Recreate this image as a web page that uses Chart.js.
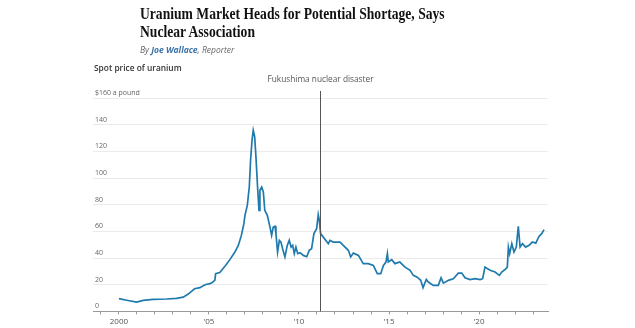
<!DOCTYPE html>
<html>
<head>
<meta charset="utf-8">
<script src="https://cdn.jsdelivr.net/npm/chart.js@4"></script>
<style>
    body { margin: 0; background: #fff; width: 635px; height: 328px; overflow: hidden; position: relative; }
    #chartBox { position: absolute; left: 0; top: 0; width: 635px; height: 328px; }
    .headline {
        position: absolute; left: 140px; top: 5px; margin: 0;
        font-family: 'Liberation Serif', 'DejaVu Serif', serif; font-weight: bold;
        font-size: 16px; line-height: 18px; color: #111;
        transform: scaleX(0.85); transform-origin: left top; white-space: nowrap;
    }
    .byline {
        position: absolute; left: 140px; top: 44px;
        font-family: 'Open Sans', sans-serif; font-style: italic;
        font-size: 8.5px; color: #666;
    }
    .byline b { color: #3b73a8; }
    .chartTitle {
        position: absolute; left: 94px; top: 61px;
        font-family: 'Open Sans', sans-serif; font-weight: 600;
        font-size: 9.5px; color: #333;
        transform: scaleX(0.88); transform-origin: left top; white-space: nowrap;
    }
</style>
</head>
<body>
<div id="chartBox"><canvas id="uraniumLine" width="635" height="328"></canvas></div>
<h1 class="headline">Uranium Market Heads for Potential Shortage, Says<br>Nuclear Association</h1>
<div class="byline">By <b>Joe Wallace</b>, Reporter</div>
<div class="chartTitle">Spot price of uranium</div>
<script>
// spot price, $ a pound, by decimal year
const years = [
    2000.00, 2000.50, 2000.98, 2001.35, 2001.90, 2002.65, 2003.20, 2003.57, 2003.85, 2004.20,
    2004.50, 2004.78, 2005.06, 2005.20, 2005.33, 2005.37, 2005.60, 2005.90, 2006.17, 2006.44,
    2006.63, 2006.80, 2006.94, 2007.00, 2007.13, 2007.24, 2007.31, 2007.39, 2007.46, 2007.54,
    2007.61, 2007.70, 2007.78, 2007.83, 2007.93, 2008.02, 2008.10, 2008.24, 2008.39, 2008.48,
    2008.57, 2008.67, 2008.72, 2008.81, 2008.91, 2009.00, 2009.09, 2009.22, 2009.35, 2009.46,
    2009.56, 2009.65, 2009.74, 2009.83, 2009.93, 2010.06, 2010.24, 2010.43, 2010.57, 2010.70,
    2010.83, 2010.98, 2011.07, 2011.13, 2011.20, 2011.35, 2011.63, 2011.72, 2011.90, 2012.28,
    2012.46, 2012.74, 2012.87, 2013.02, 2013.30, 2013.57, 2013.85, 2014.13, 2014.35, 2014.54,
    2014.69, 2014.83, 2014.91, 2014.96, 2015.15, 2015.33, 2015.60, 2015.89, 2016.17, 2016.35,
    2016.57, 2016.76, 2016.89, 2017.07, 2017.18, 2017.46, 2017.74, 2017.89, 2018.02, 2018.30,
    2018.57, 2018.85, 2019.04, 2019.22, 2019.50, 2019.78, 2020.06, 2020.20, 2020.33, 2020.61,
    2020.89, 2021.13, 2021.26, 2021.50, 2021.57, 2021.63, 2021.70, 2021.82, 2021.94, 2022.07,
    2022.18, 2022.28, 2022.41, 2022.59, 2022.78, 2022.96, 2023.15, 2023.33, 2023.48, 2023.61
];
const prices = [
    9.6, 8.2, 6.9, 8.2, 9.0, 9.3, 9.8, 10.7, 13.0, 17.0,
    17.8, 20.0, 20.8, 21.8, 23.5, 28.3, 29.2, 34.0, 39.0, 44.5,
    49.5, 57.0, 65.8, 72.0, 79.5, 93.2, 113.0, 128.0, 135.8, 130.8,
    115.8, 93.2, 75.8, 90.8, 93.2, 89.5, 75.8, 72.0, 63.2, 57.0,
    63.2, 63.8, 58.3, 44.5, 53.3, 52.0, 47.0, 40.8, 49.5, 53.3,
    48.2, 49.5, 43.3, 48.2, 43.3, 44.0, 42.0, 41.0, 45.8, 47.0,
    58.3, 62.0, 72.5, 68.3, 58.3, 55.7, 50.8, 53.3, 52.0, 52.0,
    49.5, 45.8, 40.8, 43.7, 42.0, 35.8, 35.8, 34.5, 28.3, 28.3,
    34.5, 37.0, 43.3, 37.0, 38.8, 35.8, 37.0, 33.2, 30.8, 27.0,
    25.7, 23.3, 17.8, 24.0, 22.0, 19.5, 19.5, 25.2, 21.2, 23.3,
    24.5, 28.7, 28.7, 25.2, 23.8, 24.5, 23.8, 24.5, 33.2, 30.8,
    29.5, 27.0, 29.5, 32.0, 33.2, 48.2, 43.3, 50.8, 44.5, 48.2,
    63.8, 48.2, 50.8, 48.2, 49.5, 52.0, 51.2, 56.2, 58.3, 61.3
];

const yTicks = [0, 20, 40, 60, 80, 100, 120, 140, 160];
const xTicks = [1999, 2000, 2001, 2002, 2003, 2004, 2005, 2006, 2007, 2008, 2009, 2010, 2011,
    2012, 2013, 2014, 2015, 2016, 2017, 2018, 2019, 2020, 2021, 2022, 2023];
const xLabels = { 2000: '2000', 2005: "'05", 2010: "'10", 2015: "'15", 2020: "'20" };

const fukushimaYear = 2011.19;
const fukushimaText = 'Fukushima nuclear disaster';

const lineColor = '#1f7aad';
const font = "'Open Sans', sans-serif";

// vertical marker for the March 2011 event
const eventLine = {
    id: 'eventLine',
    afterDatasetsDraw(chart) {
        const { ctx, chartArea, scales } = chart;
        const x = Math.round(scales.x.getPixelForValue(fukushimaYear)) + 0.5;
        ctx.save();
        ctx.strokeStyle = '#555';
        ctx.lineWidth = 1;
        ctx.beginPath();
        ctx.moveTo(x, 91);
        ctx.lineTo(x, chartArea.bottom);
        ctx.stroke();
        ctx.fillStyle = '#555';
        ctx.font = '8.3px ' + font;
        ctx.textAlign = 'center';
        ctx.textBaseline = 'middle';
        ctx.fillText(fukushimaText, x, 80);
        ctx.restore();
    }
};

const data = {
    datasets: [{
        label: 'Spot price',
        data: years.map((y, i) => ({ x: y, y: prices[i] })),
        borderColor: lineColor,
        borderWidth: 1.7,
        pointRadius: 0,
        tension: 0
    }]
};

const config = {
    type: 'line',
    data: data,
    plugins: [eventLine],
    options: {
        responsive: false,
        animation: false,
        layout: { padding: { left: 89, right: 87, top: 98, bottom: -2 } },
        plugins: {
            legend: { display: false },
            tooltip: { enabled: false }
        },
        scales: {
            x: {
                type: 'linear',
                min: 1998.56,
                max: 2023.83,
                afterBuildTicks: axis => { axis.ticks = xTicks.map(v => ({ value: v })); },
                ticks: {
                    autoSkip: false,
                    maxRotation: 0,
                    padding: 3,
                    color: '#555',
                    font: { size: 8, family: font },
                    callback: v => xLabels[v] || ''
                },
                grid: { drawOnChartArea: false, tickLength: 3, color: '#999' },
                border: { color: '#999' }
            },
            y: {
                min: 0,
                max: 160,
                afterBuildTicks: axis => { axis.ticks = yTicks.map(v => ({ value: v })); },
                ticks: {
                    mirror: true,
                    padding: 2,
                    labelOffset: -5,
                    color: '#666',
                    font: { size: 7, family: font },
                    callback: v => v === 160 ? '$160 a pound' : v
                },
                grid: { color: '#ebebeb', drawTicks: false },
                border: { display: false }
            }
        }
    }
};

new Chart(document.getElementById('uraniumLine'), config);
</script>
</body>
</html>
